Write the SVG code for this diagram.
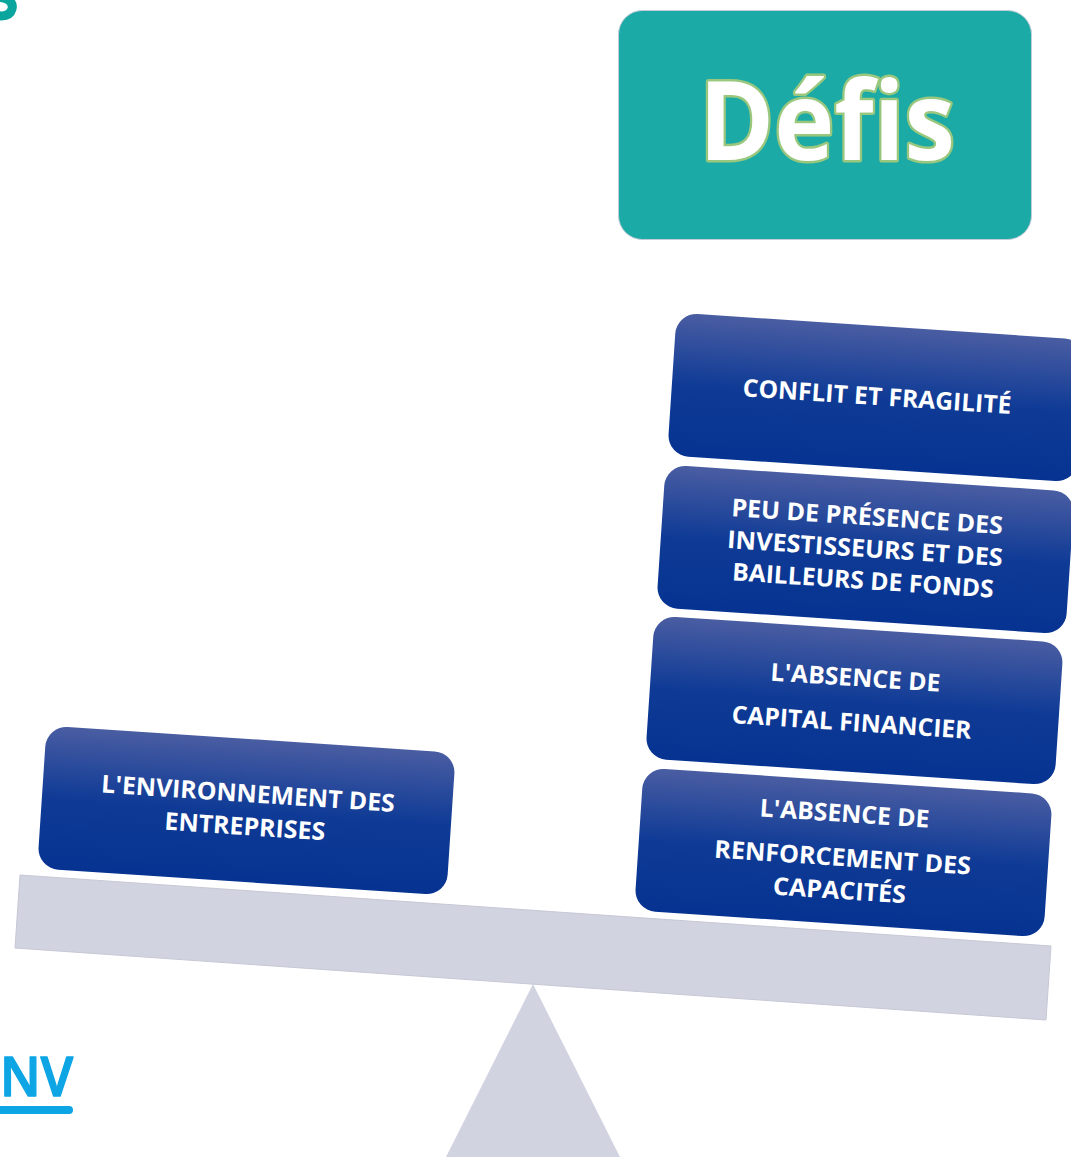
<svg xmlns="http://www.w3.org/2000/svg" width="1071" height="1157" viewBox="0 0 1071 1157">
<style>
.card{fill:url(#cardFill)}
.lbl{font-family:"Open Sans","Liberation Sans",sans-serif;font-weight:700;font-size:24.5px;fill:#fff;text-anchor:middle}
.scale{fill:#d1d3e0}
</style>
<defs>
<linearGradient id="cardFill" x1="0" y1="0" x2="0" y2="1">
<stop offset="0" stop-color="#4a5da2"/>
<stop offset="0.5" stop-color="#0f3b96"/>
<stop offset="1" stop-color="#063391"/>
</linearGradient>
<rect id="card" x="-204.5" y="-71" width="410" height="143" rx="21" class="card"/>
</defs>
<rect width="1071" height="1157" fill="#fff"/>
<path d="M-6 -2C5 -4 14 1 12 9C10 16 3 17 -6 15" fill="none" stroke="#0aa59c" stroke-width="9"/>
<g id="logo-nv">
<text x="0" y="1096" textLength="73" lengthAdjust="spacingAndGlyphs" font-family="'Open Sans','Liberation Sans',sans-serif" font-weight="600" font-size="55" fill="#0ea5e5" stroke="#0ea5e5" stroke-width="1.5" stroke-linejoin="round">NV</text>
<path d="M0 1110H69" stroke="#0ea5e5" stroke-width="8" stroke-linecap="round" fill="none"/>
</g>
<g id="defis">
<rect x="618.5" y="10.5" width="413" height="229" rx="24" fill="#1caaa6" stroke="#c3cbd8" stroke-width="1"/>
<text x="827" y="160" text-anchor="middle" textLength="256" lengthAdjust="spacingAndGlyphs" font-family="'Open Sans','Liberation Sans',sans-serif" font-weight="700" font-size="110" fill="#fff" stroke="#9ac77e" stroke-width="5" stroke-linejoin="round" paint-order="stroke">Défis</text>
</g>
<g id="fulcrum"><polygon class="scale" points="533,984 446,1157 620,1157"/></g>
<g id="beam"><polygon class="scale" points="20,875 1051,946 1046,1020 15,948" stroke="#c6c8d6" stroke-width="1"/></g>
<g id="card-environnement" transform="translate(246 810) rotate(3.8)">
<use href="#card"/>
<text class="lbl" x="1" y="-8" textLength="294" lengthAdjust="spacingAndGlyphs">L'ENVIRONNEMENT DES</text>
<text class="lbl" x="0" y="25" textLength="161" lengthAdjust="spacingAndGlyphs">ENTREPRISES</text>
</g>
<g id="card-renforcement" transform="translate(843 852) rotate(3.8)">
<use href="#card"/>
<text class="lbl" x="-1" y="-30" textLength="170" lengthAdjust="spacingAndGlyphs">L'ABSENCE DE</text>
<text class="lbl" x="0" y="14" textLength="257" lengthAdjust="spacingAndGlyphs">RENFORCEMENT DES</text>
<text class="lbl" x="-1" y="47" textLength="133" lengthAdjust="spacingAndGlyphs">CAPACITÉS</text>
</g>
<g id="card-capital" transform="translate(854 700) rotate(3.8)">
<use href="#card"/>
<text class="lbl" x="0" y="-14" textLength="170" lengthAdjust="spacingAndGlyphs">L'ABSENCE DE</text>
<text class="lbl" x="-1" y="31" textLength="240" lengthAdjust="spacingAndGlyphs">CAPITAL FINANCIER</text>
</g>
<g id="card-investisseurs" transform="translate(865 549) rotate(3.8)">
<use href="#card"/>
<text class="lbl" x="0" y="-24" textLength="272" lengthAdjust="spacingAndGlyphs">PEU DE PRÉSENCE DES</text>
<text class="lbl" x="0" y="8" textLength="276" lengthAdjust="spacingAndGlyphs">INVESTISSEURS ET DES</text>
<text class="lbl" x="0" y="40" textLength="262" lengthAdjust="spacingAndGlyphs">BAILLEURS DE FONDS</text>
</g>
<g id="card-conflit" transform="translate(876 397) rotate(3.8)">
<use href="#card"/>
<text class="lbl" x="1" y="8" textLength="269" lengthAdjust="spacingAndGlyphs">CONFLIT ET FRAGILITÉ</text>
</g>
</svg>
